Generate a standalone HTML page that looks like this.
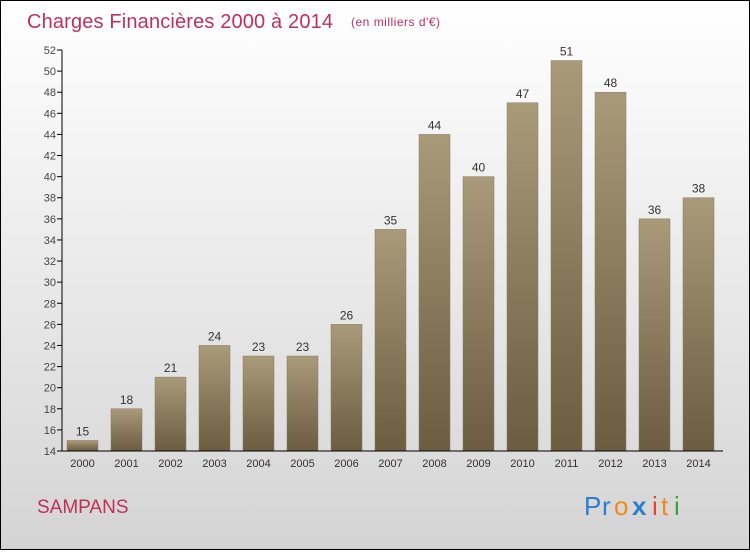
<!DOCTYPE html>
<html><head><meta charset="utf-8"><style>
body{margin:0;width:750px;height:550px;overflow:hidden}
#c{position:absolute;left:0;top:0;width:748px;height:548px;border:1px solid #000;background:linear-gradient(#ffffff,#d4d4d4);font-family:"Liberation Sans",sans-serif}
</style></head><body>
<div id="c">
<svg width="748" height="548" id="svg">
<defs><linearGradient id="bg" x1="0" y1="0" x2="0" y2="1"><stop offset="0" stop-color="#a99a7a"/><stop offset="1" stop-color="#6c5c40"/></linearGradient></defs>
<text x="26" y="27" font-size="20" fill="#c0305e" textLength="306">Charges Financières 2000 à 2014</text>
<text x="350" y="25" font-size="12" fill="#c0305e" textLength="89">(en milliers d'€)</text>
<text x="36" y="512" font-size="19" fill="#c0305e">SAMPANS</text>
<g font-size="26">
<text x="583" y="514" fill="#2a7fd0">P</text><text x="601" y="514" fill="#2a7fd0">r</text><text x="613" y="514" fill="#f08a1c">o</text><text x="631" y="514" fill="#2a7fd0" font-weight="bold">x</text><text x="651" y="514" fill="#e8452c">i</text><text x="660" y="514" fill="#f08a1c">t</text><text x="673" y="514" fill="#3aa040">i</text>
</g>
<g id="g"></g>
</svg></div>
<script>
const categories=["2000","2001","2002","2003","2004","2005","2006","2007","2008","2009","2010","2011","2012","2013","2014"];
const values=[15,18,21,24,23,23,26,35,44,40,47,51,48,36,38];
const yTicks=[14,16,18,20,22,24,26,28,30,32,34,36,38,40,42,44,46,48,50,52];
const ns="http://www.w3.org/2000/svg",g=document.getElementById('g');
const y=v=>450-(v-14)*(401/38);
const x=i=>66+i*44;
function mk(t,a){const e=document.createElementNS(ns,t);for(const k in a)e.setAttribute(k,a[k]);g.appendChild(e);return e;}
yTicks.forEach(v=>{
 const l=mk('line',{x1:56,x2:61,y1:y(v),y2:y(v),stroke:'#000'});
 
 
 const t=mk('text',{x:55,y:y(v)+4,'font-size':11,fill:'#444','text-anchor':'end'});t.textContent=v;
 
 
});
values.forEach((v,i)=>{
 const r=mk('rect',{x:x(i),y:y(v),width:31,height:450-y(v),fill:'url(#bg)',stroke:'#8a7a5c','stroke-width':0.5});
 
 
 const t=mk('text',{x:x(i)+15.5,y:y(v)-5,'font-size':12,fill:'#333','text-anchor':'middle'});t.textContent=v;
 
 
 const c=mk('text',{x:x(i)+15.5,y:466,'font-size':11,fill:'#333','text-anchor':'middle'});c.textContent=categories[i];
 
 
});
const ya=mk('line',{x1:61,x2:61,y1:y(52),y2:450,stroke:'#000'});


const xa=mk('line',{x1:61,x2:722,y1:450,y2:450,stroke:'#000'});


</script>
</body></html>
